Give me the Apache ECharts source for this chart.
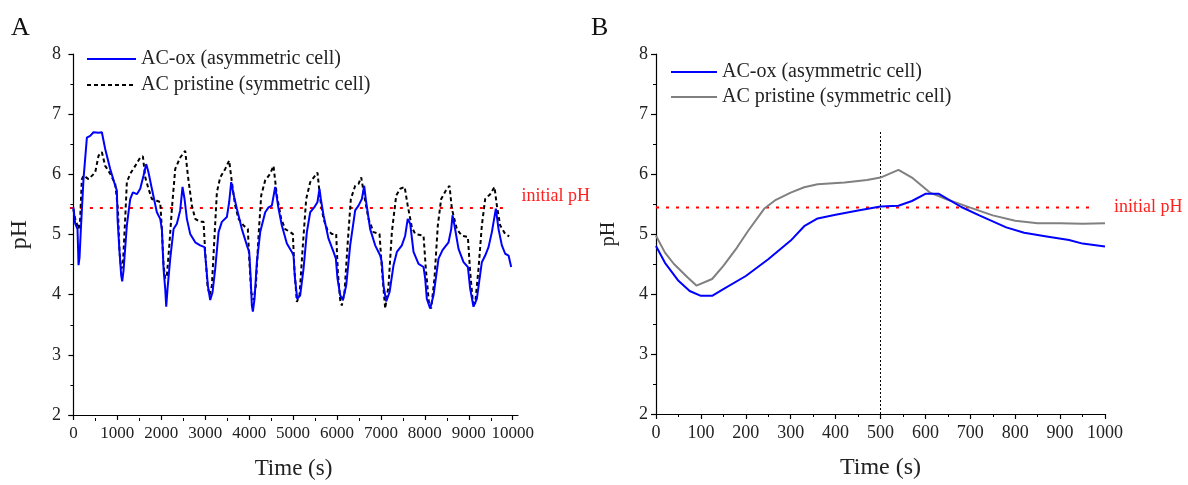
<!DOCTYPE html>
<html>
<head>
<meta charset="utf-8">
<script src="https://cdn.jsdelivr.net/npm/echarts@6/dist/echarts.min.js"></script>
<style>
html,body{margin:0;padding:0;background:#fff;}
#chart{width:1188px;height:485px;}
</style>
</head>
<body>
<div id="chart"></div>
<script>
// ---------- Panel A data ----------
const timeA_ox = [0,41,94,117,140,170,230,307,382,458,572,648,724,838,952,990,1005,1050,1088,1111,1141,1217,1293,1354,1445,1521,1597,1657,1710,1786,1900,1976,2014,2052,2090,2113,2143,2204,2280,2355,2431,2484,2530,2583,2659,2773,2886,2985,3015,3061,3114,3167,3228,3304,3379,3493,3546,3592,3645,3721,3835,3949,4002,4032,4062,4085,4123,4176,4252,4366,4441,4517,4593,4669,4745,4859,4973,5011,5040,5095,5162,5238,5314,5390,5481,5556,5602,5632,5693,5807,5921,5974,6011,6073,6133,6209,6300,6414,6490,6566,6619,6664,6755,6869,6983,7021,7059,7120,7196,7287,7363,7476,7552,7610,7666,7742,7856,7970,8007,8045,8121,8197,8311,8402,8539,8600,8630,8675,8766,8880,8979,9031,9107,9183,9297,9373,9449,9525,9616,9677,9753,9829,9905,9965];
const pHA_ox = [5.45,5.18,5.09,4.49,4.62,5.09,5.92,6.61,6.64,6.70,6.69,6.70,6.42,6.09,5.81,5.73,5.26,4.71,4.32,4.22,4.40,5.15,5.59,5.70,5.67,5.76,5.98,6.17,6.03,5.76,5.37,5.26,5.09,4.43,4.10,3.80,4.10,4.60,5.09,5.18,5.40,5.79,5.59,5.26,5.01,4.87,4.82,4.79,4.54,4.15,3.91,4.04,4.43,5.04,5.21,5.29,5.54,5.87,5.67,5.43,5.09,4.82,4.71,4.32,3.82,3.72,3.93,4.54,5.04,5.37,5.45,5.48,5.79,5.43,5.15,4.85,4.71,4.65,4.30,3.93,3.99,4.43,5.04,5.37,5.45,5.54,5.76,5.59,5.32,4.93,4.71,4.60,4.27,3.99,3.91,4.15,4.82,5.40,5.48,5.59,5.81,5.54,5.09,4.82,4.65,4.54,4.15,3.89,4.04,4.49,4.71,4.82,4.98,5.26,5.18,4.71,4.51,4.46,4.27,3.93,3.77,3.99,4.60,4.74,4.87,5.09,5.32,5.15,4.76,4.54,4.46,4.10,3.80,3.93,4.54,4.65,4.79,5.04,5.43,5.09,4.82,4.68,4.65,4.46];

const timeA_pr = [0,41,117,150,193,231,345,496,572,648,724,838,952,990,1013,1050,1088,1126,1179,1217,1293,1407,1521,1582,1635,1710,1786,1900,1976,2014,2052,2090,2128,2189,2242,2318,2431,2545,2606,2697,2773,2886,2962,3000,3053,3099,3152,3213,3266,3342,3456,3546,3607,3683,3759,3873,3971,4002,4047,4100,4153,4214,4275,4366,4479,4555,4631,4730,4821,4935,4995,5030,5086,5124,5147,5223,5299,5390,5504,5556,5617,5693,5784,5883,5981,6019,6073,6110,6171,6240,6315,6414,6490,6551,6619,6717,6831,6968,7021,7097,7173,7249,7348,7439,7540,7605,7704,7780,7818,7970,8022,8098,8143,8219,8295,8371,8478,8561,8614,8728,8842,8979,9031,9092,9145,9221,9297,9373,9487,9585,9639,9715,9829,9920];
const pHA_pr = [5.42,5.26,5.09,5.20,5.92,5.98,5.92,6.03,6.31,6.37,6.14,6.01,5.84,5.81,5.43,4.71,4.43,4.49,5.26,5.87,6.01,6.14,6.28,6.30,5.95,5.76,5.59,5.56,5.54,5.09,4.49,4.27,4.32,4.87,5.43,6.09,6.28,6.39,5.98,5.48,5.26,5.21,5.21,4.71,4.15,3.99,4.15,4.98,5.70,5.95,6.09,6.23,5.87,5.48,5.26,5.15,5.09,4.60,4.04,3.91,4.15,4.98,5.65,5.90,6.01,6.14,5.65,5.26,5.09,5.04,5.01,4.43,3.88,3.85,3.99,4.82,5.59,5.87,5.98,6.03,5.59,5.26,5.07,5.01,5.01,4.38,3.91,3.82,4.04,4.82,5.59,5.81,5.84,5.95,5.65,5.26,5.04,5.01,4.43,3.77,4.15,5.04,5.65,5.76,5.79,5.50,5.12,5.01,4.98,4.98,4.43,3.82,3.77,4.27,5.15,5.59,5.73,5.81,5.43,5.09,4.98,4.96,4.38,3.88,3.85,4.43,5.15,5.59,5.67,5.79,5.48,5.15,5.01,4.97];

const ticksA = [0,1000,2000,3000,4000,5000,6000,7000,8000,9000,10000];
const initialLineA = [-80, 9925];

// ---------- Panel B data ----------
const timeB_ox = [0,20,50,75,100,125,150,200,250,300,330,360,400,450,500,540,570,600,630,680,720,780,820,870,920,950,1000];
const pHB_ox = [4.80,4.52,4.22,4.05,3.97,3.97,4.08,4.30,4.58,4.89,5.13,5.26,5.32,5.39,5.46,5.47,5.55,5.67,5.67,5.45,5.31,5.11,5.02,4.96,4.90,4.84,4.79];
const timeB_pr = [0,20,40,70,90,125,150,180,205,242,267,300,330,360,420,470,500,540,570,610,650,700,750,800,850,900,950,1000];
const pHB_pr = [4.97,4.69,4.50,4.28,4.14,4.25,4.47,4.77,5.05,5.43,5.57,5.69,5.78,5.83,5.86,5.90,5.94,6.07,5.94,5.69,5.57,5.44,5.31,5.22,5.18,5.18,5.17,5.18];
const initialLineB = [0, 980];
const switchTime = 500;
const switchLineTop = 6.7;
const phaseLabels = ['charging', 'discharging'];
const phaseX = [252, 765];
const phaseY = 2.41;

const initialPH = 5.44;
const seriesNames = ['AC-ox (asymmetric cell)', 'AC pristine (symmetric cell)'];

// ---------- Chart ----------
const FONT = "'Liberation Serif','Times New Roman',serif";
const zip = (xs, ys) => xs.map((x, i) => [x, ys[i]]);
const plain = v => String(v);

// Panel A axis runs -100 .. 10120 over 449 px; the helper grid covers exactly 0 .. 10000
const A_MIN = -100, A_MAX = 10120, A_LEFT = 69, A_WIDTH = 449;
const pxPerUnitA = A_WIDTH / (A_MAX - A_MIN);

function yAxisCfg(gridIndex, name, nameSize) {
  return {
    type: 'value', gridIndex, min: 2, max: 8, interval: 1,
    name, nameLocation: 'middle', nameGap: 37, nameRotate: 90,
    nameTextStyle: { fontFamily: FONT, fontSize: nameSize, color: '#222' },
    axisLine: { show: true, lineStyle: { color: '#000', width: 1.2 } },
    axisTick: { show: true, inside: false, length: 5, lineStyle: { color: '#000', width: 1.2 } },
    minorTick: { show: true, splitNumber: 2, length: 3, lineStyle: { color: '#000', width: 1 } },
    axisLabel: { fontFamily: FONT, fontSize: 18, color: '#222', margin: 8, formatter: plain },
    splitLine: { show: false }
  };
}

const legendCommon = {
  orient: 'vertical', itemHeight: 14, itemGap: 6, padding: 0, selectedMode: false,
  itemStyle: { opacity: 0 },
  textStyle: { fontFamily: FONT, fontSize: 20, color: '#222' }
};

const option = {
  animation: false,
  backgroundColor: '#fff',
  textStyle: { fontFamily: FONT },
  graphic: [
    { type: 'text', left: 11, top: 15, style: { text: 'A', font: "26px 'Liberation Serif', serif", fill: '#111' } },
    { type: 'text', left: 591, top: 15, style: { text: 'B', font: "26px 'Liberation Serif', serif", fill: '#111' } }
  ],
  legend: [
    Object.assign({}, legendCommon, { left: 86, top: 49, itemWidth: 49, data: seriesNames }),
    Object.assign({}, legendCommon, {
      left: 670, top: 62, itemWidth: 46, itemGap: 5,
      data: seriesNames.map(n => n + ' '), formatter: n => n.trim()
    })
  ],
  grid: [
    { left: A_LEFT, top: 54, width: A_WIDTH, height: 364 },
    { left: 656, top: 54, width: 449, height: 364 },
    { left: A_LEFT + (0 - A_MIN) * pxPerUnitA, top: 54, width: 10000 * pxPerUnitA, height: 364 }
  ],
  xAxis: [
    {
      type: 'value', gridIndex: 0, position: 'bottom', min: A_MIN, max: A_MAX,
      name: 'Time (s)', nameLocation: 'middle', nameGap: 42,
      nameTextStyle: { fontFamily: FONT, fontSize: 23, color: '#222' },
      axisLine: { show: true, lineStyle: { color: '#000', width: 1.2 } },
      axisTick: { show: true, length: 5, customValues: ticksA, lineStyle: { color: '#000', width: 1.2 } },
      axisLabel: { customValues: ticksA, fontFamily: FONT, fontSize: 17, color: '#222', margin: 10, formatter: plain },
      splitLine: { show: false }
    },
    {
      type: 'value', gridIndex: 2, position: 'bottom', min: 0, max: 10000, interval: 1000,
      axisLine: { show: false },
      axisTick: { show: false },
      minorTick: { show: true, splitNumber: 2, length: 3, lineStyle: { color: '#000', width: 1 } },
      axisLabel: { show: false },
      splitLine: { show: false }
    },
    {
      type: 'value', gridIndex: 1, position: 'bottom', min: 0, max: 1000, interval: 100,
      name: 'Time (s)', nameLocation: 'middle', nameGap: 42,
      nameTextStyle: { fontFamily: FONT, fontSize: 24, color: '#222' },
      axisLine: { show: true, lineStyle: { color: '#000', width: 1.2 } },
      axisTick: { show: true, length: 5, lineStyle: { color: '#000', width: 1.2 } },
      minorTick: { show: true, splitNumber: 2, length: 3, lineStyle: { color: '#000', width: 1 } },
      axisLabel: { fontFamily: FONT, fontSize: 18, color: '#222', margin: 10, formatter: plain },
      splitLine: { show: false }
    }
  ],
  yAxis: [
    yAxisCfg(0, 'pH', 24),
    yAxisCfg(1, 'pH', 20),
    { type: 'value', gridIndex: 2, min: 2, max: 8, show: false }
  ],
  series: [
    // Panel A
    {
      name: 'initial pH A', type: 'line', xAxisIndex: 0, yAxisIndex: 0, symbol: 'none', silent: true,
      data: initialLineA.map(t => [t, initialPH]),
      lineStyle: { color: '#ff0000', width: 2, type: [3, 7] },
      endLabel: { show: true, formatter: 'initial pH', color: '#ff2020', fontFamily: FONT, fontSize: 18, offset: [4, -12] }
    },
    {
      name: seriesNames[1], type: 'line', xAxisIndex: 0, yAxisIndex: 0, symbol: 'none',
      data: zip(timeA_pr, pHA_pr),
      lineStyle: { color: '#000', width: 2, type: [4, 3] }, itemStyle: { color: '#000' }
    },
    {
      name: seriesNames[0], type: 'line', xAxisIndex: 0, yAxisIndex: 0, symbol: 'none',
      data: zip(timeA_ox, pHA_ox),
      lineStyle: { color: '#0000ff', width: 2 }, itemStyle: { color: '#0000ff' }
    },
    // Panel B
    {
      name: 'initial pH B', type: 'line', xAxisIndex: 2, yAxisIndex: 1, symbol: 'none', silent: true,
      data: initialLineB.map(t => [t, initialPH]),
      lineStyle: { color: '#ff0000', width: 2, type: [3, 7] },
      endLabel: { show: true, formatter: 'initial pH', color: '#ff2020', fontFamily: FONT, fontSize: 18, offset: [10, 0] }
    },
    {
      name: 'switch', type: 'line', xAxisIndex: 2, yAxisIndex: 1, symbol: 'none', silent: true,
      data: [[switchTime, 2], [switchTime, switchLineTop]],
      lineStyle: { color: '#000', width: 1, type: [2, 2] }
    },
    {
      name: seriesNames[1] + ' ', type: 'line', xAxisIndex: 2, yAxisIndex: 1, symbol: 'none',
      data: zip(timeB_pr, pHB_pr),
      lineStyle: { color: '#808080', width: 2 }, itemStyle: { color: '#808080' }
    },
    {
      name: seriesNames[0] + ' ', type: 'line', xAxisIndex: 2, yAxisIndex: 1, symbol: 'none',
      data: zip(timeB_ox, pHB_ox),
      lineStyle: { color: '#0000ff', width: 2 }, itemStyle: { color: '#0000ff' }
    },
    {
      name: 'phases', type: 'scatter', xAxisIndex: 2, yAxisIndex: 1, symbolSize: 1, silent: true,
      itemStyle: { opacity: 0 },
      data: phaseLabels.map((n, i) => ({ name: n, value: [phaseX[i], phaseY] })),
      label: { show: true, position: 'inside', formatter: p => p.name, color: '#222', fontFamily: FONT, fontSize: 18 }
    }
  ]
};

const chart = echarts.init(document.getElementById('chart'), null, { renderer: 'canvas' });
chart.setOption(option);
</script>
</body>
</html>
